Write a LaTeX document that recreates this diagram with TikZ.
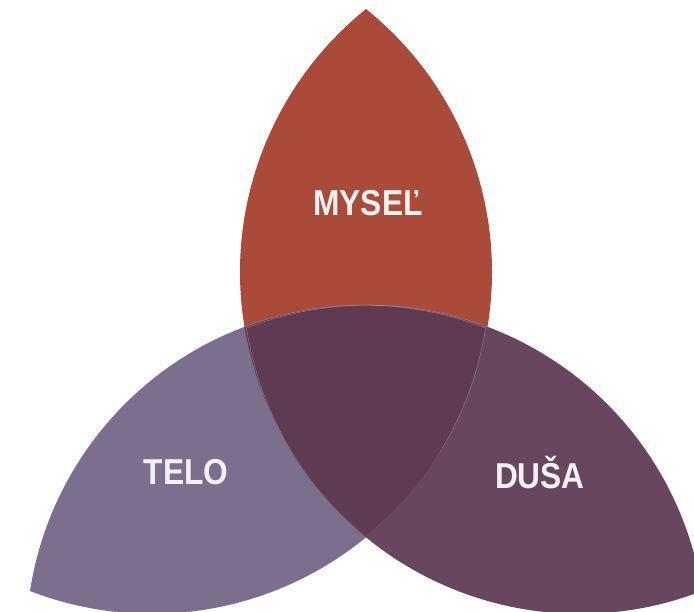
\documentclass[tikz,border=0pt]{standalone}
\usepackage{fontspec}
\setmainfont{Liberation Sans}
\definecolor{mindc}{HTML}{A94B38}
\definecolor{bodyc}{HTML}{7B6F8D}
\definecolor{soulc}{HTML}{69465F}
\definecolor{corec}{HTML}{5F3A53}
\definecolor{labeltext}{HTML}{F2F2F2}
\begin{document}
\begin{tikzpicture}[x=1pt,y=1pt,
  petal label/.style={text=labeltext, inner sep=0pt,
    font=\bfseries\fontsize{36}{36}\selectfont},
  mind petal/.style={shift={(366,339)}, rotate=90},
  body petal/.style={shift={(257.75,151.5)}, rotate=210},
  soul petal/.style={shift={(474.25,151.5)}, rotate=-30},
  seam/.style={draw=white, draw opacity=0.3, line width=0.5pt}]
\useasboundingbox (0,0) rectangle (694,611);
\clip (0,0) rectangle (694,611);
% one lens: two circular arcs (radius 337.48) joining tips at (-263,0) and (263,0)
\def\lens{(-263,0) arc[start angle=141.2, end angle=38.8, radius=337.48]
  arc[start angle=-38.8, end angle=-141.2, radius=337.48] -- cycle}
% the three petals
\fill[mindc, mind petal] \lens;
\fill[bodyc, body petal] \lens;
\fill[soulc, soul petal] \lens;
% common core where the petals overlap
\begin{scope}
  \clip[mind petal] \lens;
  \fill[corec, body petal] \lens;
  \path[seam, body petal] \lens;
  \path[seam, soul petal] \lens;
\end{scope}
% labels
\node[petal label] (mind) at (368,408) {\scalebox{0.88}[1]{MYSEĽ}};
\node[petal label] (body) at (186,139) {\scalebox{0.88}[1]{TELO}};
\node[petal label] (soul) at (540,138) {\scalebox{0.88}[1]{DUŠA}};
\end{tikzpicture}
\end{document}
